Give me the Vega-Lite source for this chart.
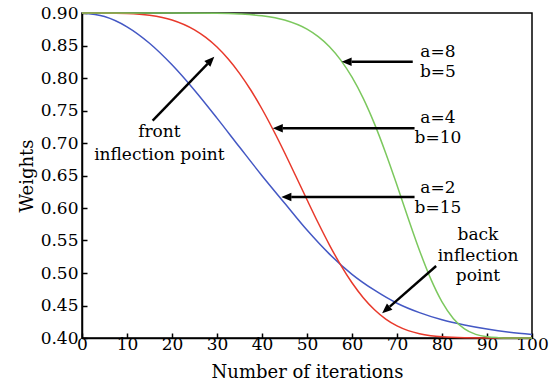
{
  "$schema": "https://vega.github.io/schema/vega-lite/v6.json",
  "width": 450,
  "height": 325,
  "autosize": "none",
  "padding": {"left": 82, "top": 13, "right": 23, "bottom": 46},
  "background": "white",
  "resolve": {"axis": {"x": "independent", "y": "independent"}},
  "config": {
    "view": {"stroke": "black", "strokeWidth": 1.5},
    "font": "DejaVu Serif",
    "axis": {
      "grid": false,
      "domainColor": "black",
      "domainWidth": 1.5,
      "tickColor": "black",
      "tickWidth": 1.5,
      "tickSize": -5,
      "labelFont": "DejaVu Serif",
      "labelFontSize": 17,
      "labelColor": "black",
      "labelOverlap": false,
      "labelFlush": false,
      "titleFont": "DejaVu Serif",
      "titleFontSize": 18,
      "titleFontWeight": "normal",
      "titleColor": "black"
    },
    "axisX": {"labelPadding": 3, "titlePadding": 11},
    "axisY": {"labelPadding": 9, "titlePadding": 4}
  },
  "datasets": {
    "curves": [
      {"t": 0, "w": 0.9, "s": "a2b15"},
      {"t": 5, "w": 0.8946, "s": "a2b15"},
      {"t": 10, "w": 0.8788, "s": "a2b15"},
      {"t": 15, "w": 0.8535, "s": "a2b15"},
      {"t": 20, "w": 0.8203, "s": "a2b15"},
      {"t": 25, "w": 0.7812, "s": "a2b15"},
      {"t": 30, "w": 0.7383, "s": "a2b15"},
      {"t": 35, "w": 0.6938, "s": "a2b15"},
      {"t": 40, "w": 0.6497, "s": "a2b15"},
      {"t": 45, "w": 0.6077, "s": "a2b15"},
      {"t": 50, "w": 0.566, "s": "a2b15"},
      {"t": 55, "w": 0.529, "s": "a2b15"},
      {"t": 60, "w": 0.498, "s": "a2b15"},
      {"t": 65, "w": 0.4735, "s": "a2b15"},
      {"t": 70, "w": 0.4535, "s": "a2b15"},
      {"t": 75, "w": 0.439, "s": "a2b15"},
      {"t": 80, "w": 0.428, "s": "a2b15"},
      {"t": 85, "w": 0.42, "s": "a2b15"},
      {"t": 90, "w": 0.4138, "s": "a2b15"},
      {"t": 95, "w": 0.409, "s": "a2b15"},
      {"t": 100, "w": 0.4055, "s": "a2b15"},

      {"t": 0, "w": 0.9, "s": "a4b10"},
      {"t": 5, "w": 0.9, "s": "a4b10"},
      {"t": 10, "w": 0.8993, "s": "a4b10"},
      {"t": 15, "w": 0.8965, "s": "a4b10"},
      {"t": 20, "w": 0.8892, "s": "a4b10"},
      {"t": 25, "w": 0.874, "s": "a4b10"},
      {"t": 27.5, "w": 0.8624, "s": "a4b10"},
      {"t": 30, "w": 0.8476, "s": "a4b10"},
      {"t": 32.5, "w": 0.8292, "s": "a4b10"},
      {"t": 35, "w": 0.8072, "s": "a4b10"},
      {"t": 37.5, "w": 0.7815, "s": "a4b10"},
      {"t": 40, "w": 0.7523, "s": "a4b10"},
      {"t": 42.5, "w": 0.72, "s": "a4b10"},
      {"t": 45, "w": 0.6854, "s": "a4b10"},
      {"t": 47.5, "w": 0.6492, "s": "a4b10"},
      {"t": 50, "w": 0.6127, "s": "a4b10"},
      {"t": 52.5, "w": 0.5769, "s": "a4b10"},
      {"t": 55, "w": 0.543, "s": "a4b10"},
      {"t": 57.5, "w": 0.5121, "s": "a4b10"},
      {"t": 60, "w": 0.485, "s": "a4b10"},
      {"t": 62.5, "w": 0.462, "s": "a4b10"},
      {"t": 65, "w": 0.4435, "s": "a4b10"},
      {"t": 67.5, "w": 0.4292, "s": "a4b10"},
      {"t": 70, "w": 0.4187, "s": "a4b10"},
      {"t": 72.5, "w": 0.4114, "s": "a4b10"},
      {"t": 75, "w": 0.4066, "s": "a4b10"},
      {"t": 77.5, "w": 0.4036, "s": "a4b10"},
      {"t": 80, "w": 0.4018, "s": "a4b10"},
      {"t": 85, "w": 0.4004, "s": "a4b10"},
      {"t": 90, "w": 0.4001, "s": "a4b10"},
      {"t": 100, "w": 0.4, "s": "a4b10"},

      {"t": 0, "w": 0.9, "s": "a8b5"},
      {"t": 20, "w": 0.9, "s": "a8b5"},
      {"t": 30, "w": 0.8996, "s": "a8b5"},
      {"t": 35, "w": 0.8985, "s": "a8b5"},
      {"t": 40, "w": 0.8957, "s": "a8b5"},
      {"t": 45, "w": 0.8891, "s": "a8b5"},
      {"t": 50, "w": 0.8751, "s": "a8b5"},
      {"t": 52.5, "w": 0.8636, "s": "a8b5"},
      {"t": 55, "w": 0.8481, "s": "a8b5"},
      {"t": 57.5, "w": 0.8275, "s": "a8b5"},
      {"t": 60, "w": 0.8012, "s": "a8b5"},
      {"t": 62.5, "w": 0.7686, "s": "a8b5"},
      {"t": 65, "w": 0.7294, "s": "a8b5"},
      {"t": 67.5, "w": 0.6843, "s": "a8b5"},
      {"t": 70, "w": 0.635, "s": "a8b5"},
      {"t": 72.5, "w": 0.5839, "s": "a8b5"},
      {"t": 75, "w": 0.5347, "s": "a8b5"},
      {"t": 77.5, "w": 0.4909, "s": "a8b5"},
      {"t": 80, "w": 0.4556, "s": "a8b5"},
      {"t": 82.5, "w": 0.4301, "s": "a8b5"},
      {"t": 85, "w": 0.4141, "s": "a8b5"},
      {"t": 87.5, "w": 0.4056, "s": "a8b5"},
      {"t": 90, "w": 0.4018, "s": "a8b5"},
      {"t": 92.5, "w": 0.4005, "s": "a8b5"},
      {"t": 95, "w": 0.4001, "s": "a8b5"},
      {"t": 100, "w": 0.4, "s": "a8b5"}
    ],
    "arrows": [
      {"x": 73.5, "y": 0.825, "x2": 59.9, "y2": 0.825, "hx": 57.7, "hy": 0.825, "ang": 270},
      {"x": 73.9, "y": 0.7226, "x2": 44.6, "y2": 0.7226, "hx": 42.4, "hy": 0.7226, "ang": 270},
      {"x": 73.9, "y": 0.617, "x2": 46.5, "y2": 0.617, "hx": 44.3, "hy": 0.617, "ang": 270},
      {"x": 15.7, "y": 0.7343, "x2": 27.9, "y2": 0.8217, "hx": 29.4, "hy": 0.8328, "ang": 44},
      {"x": 78.7, "y": 0.5108, "x2": 68.4, "y2": 0.4482, "hx": 66.7, "hy": 0.438, "ang": 228.8}
    ],
    "labels": [
      {"x": 17.2, "y": 0.7174, "text": "front"},
      {"x": 17.2, "y": 0.6815, "text": "inflection point"},
      {"x": 88.0, "y": 0.5585, "text": "back"},
      {"x": 88.0, "y": 0.5262, "text": "inflection"},
      {"x": 88.0, "y": 0.4954, "text": "point"},
      {"x": 79.1, "y": 0.8405, "text": "a=8"},
      {"x": 79.1, "y": 0.8097, "text": "b=5"},
      {"x": 79.1, "y": 0.738, "text": "a=4"},
      {"x": 79.1, "y": 0.7072, "text": "b=10"},
      {"x": 79.1, "y": 0.6303, "text": "a=2"},
      {"x": 79.1, "y": 0.5995, "text": "b=15"}
    ]
  },
  "layer": [
    {
      "data": {"name": "curves"},
      "mark": {"type": "line", "strokeWidth": 1.5, "interpolate": "monotone"},
      "encoding": {
        "x": {
          "field": "t", "type": "quantitative",
          "scale": {"domain": [0, 100], "nice": false},
          "axis": {
            "title": "Number of iterations",
            "values": [0, 10, 20, 30, 40, 50, 60, 70, 80, 90, 100],
            "labelOverlap": false
          }
        },
        "y": {
          "field": "w", "type": "quantitative",
          "scale": {"domain": [0.4, 0.9], "nice": false, "zero": false},
          "axis": {
            "title": "Weights",
            "values": [0.4, 0.45, 0.5, 0.55, 0.6, 0.65, 0.7, 0.75, 0.8, 0.85, 0.9],
            "format": ".2f",
            "labelOverlap": false
          }
        },
        "color": {
          "field": "s", "type": "nominal",
          "scale": {"domain": ["a2b15", "a4b10", "a8b5"], "range": ["#4458c4", "#e8392b", "#7cc85e"]},
          "legend": null
        }
      }
    },
    {
      "data": {"name": "arrows"},
      "mark": {"type": "rule", "color": "black", "strokeWidth": 2.4},
      "encoding": {
        "x": {"field": "x", "type": "quantitative", "axis": null},
        "y": {"field": "y", "type": "quantitative", "axis": null},
        "x2": {"field": "x2"},
        "y2": {"field": "y2"}
      }
    },
    {
      "data": {"name": "arrows"},
      "mark": {"type": "point", "shape": "M0,0L0.42,1L-0.42,1Z", "filled": true, "color": "black", "opacity": 1, "size": 400, "strokeWidth": 0},
      "encoding": {
        "x": {"field": "hx", "type": "quantitative", "axis": null},
        "y": {"field": "hy", "type": "quantitative", "axis": null},
        "angle": {"field": "ang", "type": "quantitative", "scale": null}
      }
    },
    {
      "data": {"name": "labels"},
      "mark": {"type": "text", "font": "DejaVu Serif", "fontSize": 17, "align": "center", "baseline": "middle", "color": "black"},
      "encoding": {
        "x": {"field": "x", "type": "quantitative", "axis": null},
        "y": {"field": "y", "type": "quantitative", "axis": null},
        "text": {"field": "text"}
      }
    }
  ]
}
